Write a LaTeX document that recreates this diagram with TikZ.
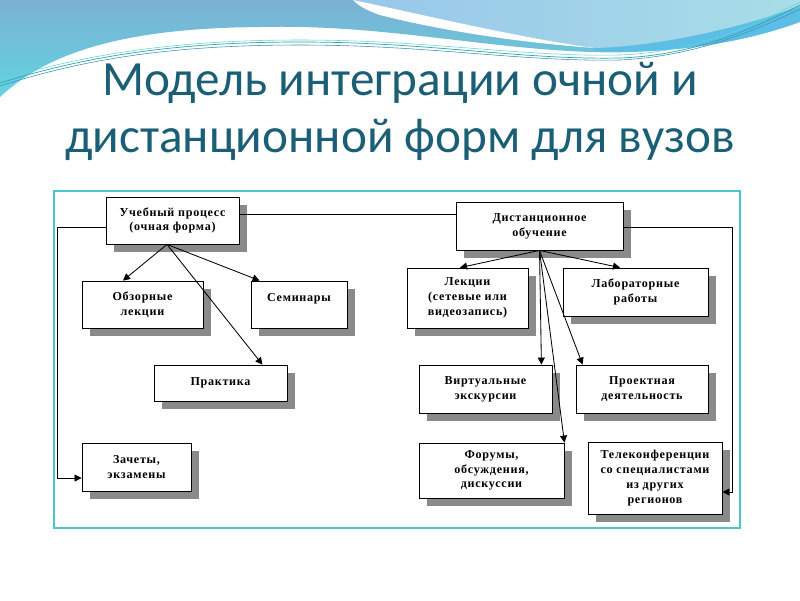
\documentclass[tikz,border=0pt]{standalone}
\usepackage{fontspec}
\setmainfont{Liberation Serif}
\newfontfamily\titlefont{Carlito}
\newfontfamily\boxfont{Liberation Serif}[LetterSpace=6]
\usetikzlibrary{arrows.meta,shadows}

\begin{document}
\begin{tikzpicture}[x=0.025cm, y=-0.025cm,
    wh/.style 2 args={minimum width=#1*0.025cm, minimum height=#2*0.025cm},
    box/.style={draw=black, line width=0.6pt, fill=white, inner sep=0pt, align=center,
        font=\boxfont\bfseries\fontsize{8.6}{10.5}\selectfont,
        drop shadow={shadow xshift=5.5pt, shadow yshift=-5.5pt, fill=shadowGrey, opacity=1}},
    link/.style={draw=black, line width=0.6pt},
    arr/.style={link, -{Triangle[length=5pt, width=5pt]}},
    title/.style={text=titleColour, font=\titlefont\fontsize{35}{35}\selectfont, anchor=base}]
    \definecolor{bandTop}{HTML}{7BB1D4}
    \definecolor{bandBottom}{HTML}{62D4E0}
    \definecolor{bandRight}{HTML}{5CBEE5}
    \definecolor{lightCyan}{HTML}{A9DDE8}
    \definecolor{waveTeal}{HTML}{2FA79F}
    \definecolor{waveBlue}{HTML}{3B8FC2}
    \definecolor{titleColour}{HTML}{1B5F77}
    \definecolor{frameTeal}{HTML}{4CC5C9}
    \definecolor{shadowGrey}{HTML}{8A8A8A}

    \def\pxu{0.025cm}

    \useasboundingbox[fill=white] (0,0) rectangle (800,600);

    % Background wave
    \shade[top color=bandTop, bottom color=bandBottom]
        (0,0) -- (800,0) -- (800,20) .. controls (760,38) and (680,55) .. (590,52)
        .. controls (480,48) and (380,24) .. (260,27)
        .. controls (130,28) and (50,50) .. (0,97) -- cycle;
    \fill[bandRight] (595,48) .. controls (660,46) and (740,28) .. (800,6) -- (800,22)
        .. controls (740,44) and (670,54) .. (595,51) -- cycle;
    \shade[left color=lightCyan!90!blue, right color=lightCyan]
        (353,0) -- (800,0) -- (800,6) .. controls (740,28) and (660,46) .. (595,48)
        .. controls (520,38) and (420,14) .. (353,0) -- cycle;
    \fill[white] (353,0) .. controls (420,14) and (520,38) .. (595,48)
        .. controls (510,42) and (430,28) .. (380,15) .. controls (365,10) and (358,5) .. (353,0);
    \draw[waveTeal, line width=0.5pt] (0,83) .. controls (90,55) and (180,42) .. (300,42)
        .. controls (430,42) and (520,60) .. (620,58) .. controls (700,55) and (760,25) .. (800,5);
    \draw[waveBlue, line width=0.4pt] (0,86) .. controls (90,57) and (180,45) .. (300,45)
        .. controls (430,45) and (520,62) .. (620,60) .. controls (700,56) and (760,28) .. (800,9);
    \draw[bandBottom, line width=0.4pt] (0,80) .. controls (90,53) and (180,40) .. (300,40)
        .. controls (430,40) and (520,57) .. (620,55) .. controls (700,52) and (760,22) .. (800,2);

    % Title
    \node[title] (title1) at (400,95) {Модель интеграции очной и};
    \node[title] (title2) at (400,152) {дистанционной форм для вузов};

    % Frame
    \draw[frameTeal, line width=1.8pt] (54,191) rectangle (740,528);

    % Full-time side
    \node[box, wh={133}{47}] (ucheb) at (172.5,220.5) {Учебный процесс\\(очная форма)};
    \node[box, wh={121}{47}] (obzor) at (142.5,304.5) {Обзорные\\лекции};
    \node[box, wh={96}{47}] (semin) at (299,304.5) {Семинары\\\phantom{С}};
    \node[box, wh={133}{36}] (prakt) at (220.5,383) {Практика};
    \node[box, wh={109}{48}] (zachet) at (136.5,467) {Зачеты,\\экзамены};

    % Distance side
    \node[box, wh={167}{48}] (dist) at (539.5,226) {Дистанционное\\обучение};
    \node[box, wh={121}{60}] (lekc) at (467.5,298) {Лекции\\(сетевые или\\видеозапись)};
    \node[box, wh={145}{48}] (labor) at (635.5,292) {Лабораторные\\работы};
    \node[box, wh={133}{48}] (virt) at (485.5,389) {Виртуальные\\экскурсии};
    \node[box, wh={132}{48}] (proekt) at (642,389) {Проектная\\деятельность};
    \node[box, wh={145}{55}] (forum) at (491.5,470.5) {Форумы,\\обсуждения,\\дискуссии};
    \node[box, wh={134}{72}] (telek) at (655,478) {Телеконференции\\со специалистами\\из других\\регионов};

    \coordinate (ucheb-out) at ([xshift=-5.5*\pxu]ucheb.south);

    % Arrows from full-time box
    \draw[arr] (ucheb-out) -- ([xshift=-19.5*\pxu]obzor.north);
    \draw[arr] (ucheb-out) -- ([xshift=9*\pxu]semin.north west);
    \draw[arr] (ucheb-out) -- ([xshift=-25*\pxu]prakt.north east);
    \draw[arr] ([yshift=-6.5*\pxu]ucheb.west) -- ++(-48,0) |- ([yshift=-11*\pxu]zachet.west);
    \draw[link] ([yshift=6.5*\pxu]ucheb.east) -- ([yshift=6.5*\pxu]ucheb.east -| dist.west);

    % Arrows from distance box
    \draw[arr] (dist.south) -- ([xshift=-7.5*\pxu]lekc.north);
    \draw[arr] (dist.south) -- ([xshift=-15.5*\pxu]labor.north);
    \draw[arr] (dist.south) -- ([xshift=-11*\pxu]virt.north east);
    \draw[arr] (dist.south) -- ([xshift=7*\pxu]proekt.north west);
    \draw[arr] (dist.south) -- (forum.north east);
    \draw[arr] ([yshift=-1*\pxu]dist.east) -- ++(109,0) |- ([yshift=-14*\pxu]telek.east);

\end{tikzpicture}
\end{document}
